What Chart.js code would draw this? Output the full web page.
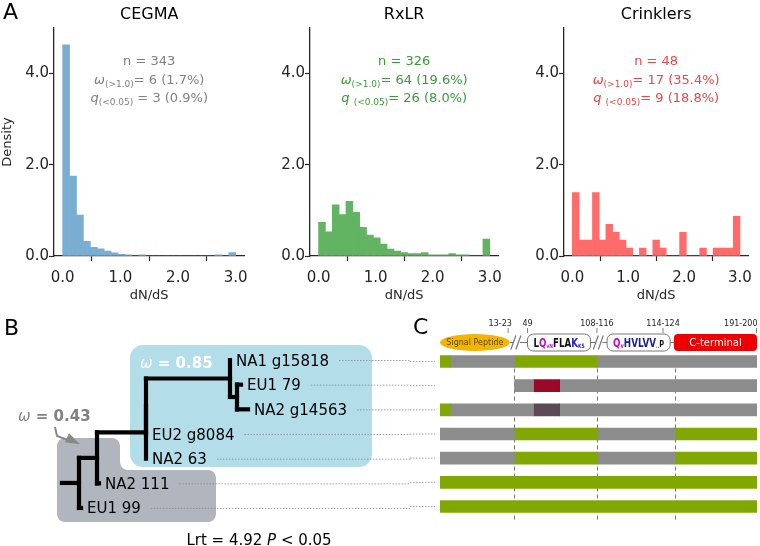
<!DOCTYPE html>
<html>
<head>
<meta charset="utf-8">
<style>
  body { margin: 0; background: #fff; width: 760px; height: 546px; position: relative; overflow: hidden; }
  canvas { position: absolute; }
</style>
<script src="https://cdn.jsdelivr.net/npm/chart.js@4.4.1/dist/chart.umd.min.js"></script>
</head>
<body>
<canvas id="histCegma" width="256" height="310" style="left:0;top:0"></canvas>
<canvas id="histRxlr" width="254" height="310" style="left:256px;top:0"></canvas>
<canvas id="histCrinkler" width="250" height="310" style="left:510px;top:0"></canvas>
<canvas id="tree" width="410" height="236" style="left:0;top:310px"></canvas>
<canvas id="domains" width="350" height="236" style="left:410px;top:310px"></canvas>
<script>
// ---- panel A: dN/dS histograms (density, 25 bins of 0.12) ----
const binCenters = [0.06, 0.18, 0.30, 0.42, 0.54, 0.66, 0.78, 0.90, 1.02, 1.14, 1.26, 1.38, 1.50,
                    1.62, 1.74, 1.86, 1.98, 2.10, 2.22, 2.34, 2.46, 2.58, 2.70, 2.82, 2.94];
const cegmaDensity = [4.63, 1.75, 0.90, 0.32, 0.19, 0.155, 0.11, 0.07, 0.036, 0.024, 0, 0.024, 0,
                      0, 0, 0, 0, 0, 0, 0, 0, 0, 0.024, 0, 0.073];
const rxlrDensity = [0.74, 0.53, 1.12, 0.91, 1.20, 0.96, 0.63, 0.46, 0.40, 0.26, 0.15, 0.11, 0.077,
                     0.051, 0.051, 0.077, 0.026, 0.026, 0.026, 0.051, 0.026, 0.026, 0, 0, 0.37];
const crinklerDensity = [1.389, 0.347, 0.347, 1.389, 0.347, 0.694, 0.521, 0.347, 0.174, 0, 0.174, 0,
                         0.347, 0.174, 0, 0, 0.521, 0, 0, 0.174, 0, 0.174, 0.174, 0.174, 0.868];
const familyNames = ['CEGMA', 'RxLR', 'Crinklers'];
const nGenes = [343, 326, 48];
const nOmegaAbove1 = [6, 64, 17];
const nQBelow005 = [3, 26, 9];
const xTickValues = [0, 1, 2, 3];
const yTickValues = [0, 2, 4];

// ---- panel B: tree (newick, branch lengths) ----
const newick = '(((((NA1 g15818:0,(EU1 79:0.04,NA2 g14563:0.11):0.07):0.84,EU2 g8084:0):0,NA2 63:0):0.49,NA2 111:0.02):0.18,EU1 99:0.02):0.17;';
const omegaFg = '0.85';
const omegaBg = '0.43';
const lrtValue = '4.92';

// ---- panel C: alignment segments per sequence [start, end, state] ----
const rowLabels = ['NA1 g15818', 'EU1 79', 'NA2 g14563', 'EU2 g8084', 'NA2 63', 'NA2 111', 'EU1 99'];
const segNA1_g15818 = [[0, 6.5, 'sel'], [6.5, 47, 'bg'], [47, 99, 'sel'], [99, 200, 'bg']];
const segEU1_79 = [[47, 59, 'bg'], [59, 75.5, 'ins1'], [75.5, 200, 'bg']];
const segNA2_g14563 = [[0, 6.5, 'sel'], [6.5, 59, 'bg'], [59, 75.5, 'ins2'], [75.5, 200, 'bg']];
const segEU2_g8084 = [[0, 47, 'bg'], [47, 99, 'sel'], [99, 148, 'bg'], [148, 200, 'sel']];
const segNA2_63 = [[0, 47, 'bg'], [47, 99, 'sel'], [99, 148, 'bg'], [148, 200, 'sel']];
const segNA2_111 = [[0, 200, 'sel']];
const segEU1_99 = [[0, 200, 'sel']];
const domainBounds = [47, 99, 148];
const domainLabels = ['Signal Peptide', 'motif1', 'motif2', 'C-terminal'];
const domainStart = [0, 55.2, 105.4, 147.6];
const domainEnd = [44, 95, 145.2, 200];
const breakAt = [48.5, 100.5];
const posTickAt = [43, 55.2, 99, 140.7, 200];
const posLabelAt = [38, 55.2, 99, 140.7, 200];
const posTickText = ['13-23', '49', '108-116', '114-124', '191-200'];

const FONT = "'DejaVu Sans', sans-serif";
Chart.defaults.font.family = FONT;
Chart.defaults.color = '#262626';

function drawRich(ctx, parts, x, y, color, align) {
  let total = 0;
  parts.forEach(p => { ctx.font = p.font; p.w = ctx.measureText(p.t).width; total += p.w; });
  let cx = align === 'left' ? x : x - total / 2;
  ctx.fillStyle = color;
  ctx.textAlign = 'left';
  ctx.textBaseline = 'alphabetic';
  parts.forEach(p => { ctx.font = p.font; ctx.fillText(p.t, cx, y + (p.dy || 0)); cx += p.w; });
  return total;
}

const pct = (a, b) => (100 * a / b).toFixed(1);

function makeHistText(i, color) {
  return {
    id: 'histText' + i,
    afterDraw(chart) {
      const { ctx, chartArea: a } = chart;
      const cx = (a.left + a.right) / 2;
      ctx.save();
      ctx.fillStyle = '#000';
      ctx.font = '16px ' + FONT;
      ctx.textAlign = 'center';
      ctx.textBaseline = 'alphabetic';
      ctx.fillText(familyNames[i], cx, 18.5);
      const n = '13px ' + FONT, it = 'italic 13px ' + FONT, sub = '9px ' + FONT;
      const qGap = i === 0 ? '' : ' ';
      drawRich(ctx, [{ t: 'n = ' + nGenes[i], font: n }], cx, 65, color);
      drawRich(ctx, [{ t: 'ω', font: it }, { t: '(>1.0)', font: sub, dy: 3 },
        { t: '= ' + nOmegaAbove1[i] + ' (' + pct(nOmegaAbove1[i], nGenes[i]) + '%)', font: n }], cx, 83.5, color);
      drawRich(ctx, [{ t: 'q' + qGap, font: it }, { t: '(<0.05)', font: sub, dy: 3 },
        { t: (i === 0 ? ' ' : '') + '= ' + nQBelow005[i] + ' (' + pct(nQBelow005[i], nGenes[i]) + '%)', font: n }], cx, 102, color);
      if (i === 0) {
        ctx.fillStyle = '#000';
        ctx.font = '22px ' + FONT;
        ctx.textAlign = 'left';
        ctx.fillText('A', 3, 19);
      }
      ctx.restore();
    }
  };
}

function histChart(id, i, values, barColor, textColor, padRight) {
  return new Chart(document.getElementById(id), {
    type: 'bar',
    data: {
      datasets: [{
        data: binCenters.map((x, k) => ({ x: x, y: values[k] })),
        backgroundColor: barColor,
        borderWidth: 0,
        barPercentage: 1,
        categoryPercentage: 1
      }]
    },
    options: {
      responsive: false,
      animation: false,
      layout: { padding: { top: 28, right: padRight, left: 0, bottom: 0 } },
      plugins: { legend: { display: false }, tooltip: { enabled: false } },
      scales: {
        x: {
          type: 'linear', offset: false, min: -0.15, max: 3.15,
          afterBuildTicks: s => { s.ticks = xTickValues.map(v => ({ value: v })); },
          afterFit: s => { s.height = 54; },
          grid: { drawOnChartArea: false, drawTicks: true, tickLength: 5, tickColor: '#262626', tickWidth: 1.2 },
          border: { display: true, color: '#262626', width: 1.3 },
          ticks: { color: '#262626', font: { size: 15 }, padding: 8, maxRotation: 0, callback: v => v.toFixed(1) },
          title: { display: true, text: 'dN/dS', color: '#262626', font: { size: 13 }, padding: { top: 0, bottom: 7 } }
        },
        y: {
          min: 0, max: 5,
          afterBuildTicks: s => { s.ticks = yTickValues.map(v => ({ value: v })); },
          afterFit: s => { s.width = 54; },
          grid: { drawOnChartArea: false, drawTicks: true, tickLength: 5, tickColor: '#262626', tickWidth: 1.2 },
          border: { display: true, color: '#262626', width: 1.3 },
          ticks: { color: '#262626', font: { size: 15 }, padding: 0, callback: v => v.toFixed(1) },
          title: { display: i === 0, text: 'Density', color: '#262626', font: { size: 13 }, padding: { top: 0, bottom: 0 } }
        }
      }
    },
    plugins: [makeHistText(i, textColor)]
  });
}

histChart('histCegma', 0, cegmaDensity, '#79add2', '#808080', 8);
histChart('histRxlr', 1, rxlrDensity, '#62b462', '#3a9a3a', 6);
histChart('histCrinkler', 2, crinklerDensity, '#ff6a6a', '#e84848', 3);

// ---- tree layout from newick ----
function parseNewick(s) {
  let pos = 0;
  function node() {
    const nd = { children: [], name: '', len: 0 };
    if (s[pos] === '(') {
      pos++;
      nd.children.push(node());
      while (s[pos] === ',') { pos++; nd.children.push(node()); }
      pos++; // ')'
    }
    let name = '';
    while (pos < s.length && !':,);'.includes(s[pos])) name += s[pos++];
    nd.name = name.trim();
    if (s[pos] === ':') {
      pos++;
      let num = '';
      while (pos < s.length && !',);'.includes(s[pos])) num += s[pos++];
      nd.len = parseFloat(num);
    }
    return nd;
  }
  return node();
}
const treeRoot = parseNewick(newick);
const tips = [];
function layout(nd, x0) {
  nd.x = x0 + nd.len;
  if (!nd.children.length) { nd.y = tips.length; tips.push(nd); return; }
  nd.children.forEach(c => layout(c, nd.x));
  nd.y = (nd.children[0].y + nd.children[nd.children.length - 1].y) / 2;
}
layout(treeRoot, 0);
const branchSegs = [[{ x: 0, y: treeRoot.y }, { x: treeRoot.x, y: treeRoot.y }]];
(function collect(nd) {
  if (!nd.children.length) return;
  const ys = nd.children.map(c => c.y);
  branchSegs.push([{ x: nd.x, y: Math.min(...ys) }, { x: nd.x, y: Math.max(...ys) }]);
  nd.children.forEach(c => {
    if (c.len > 0) branchSegs.push([{ x: nd.x, y: c.y }, { x: c.x, y: c.y }]);
    collect(c);
  });
})(treeRoot);

function roundPoly(ctx, pts, r) {
  const n = pts.length;
  ctx.beginPath();
  const start = [(pts[n - 1][0] + pts[0][0]) / 2, (pts[n - 1][1] + pts[0][1]) / 2];
  ctx.moveTo(start[0], start[1]);
  for (let k = 0; k < n; k++) {
    const p = pts[k], q = pts[(k + 1) % n];
    ctx.arcTo(p[0], p[1], q[0], q[1], r);
  }
  ctx.closePath();
}

const treeDecor = {
  id: 'treeDecor',
  beforeDatasetsDraw(chart) {
    const { ctx, scales: { x, y } } = chart;
    ctx.save();
    const X = v => x.getPixelForValue(v), Y = v => y.getPixelForValue(v);
    // background clade (omega 0.43)
    ctx.fillStyle = '#b1b6be';
    roundPoly(ctx, [[X(-0.05), Y(3.16)], [X(0.58), Y(3.16)], [X(0.58), Y(4.46)], [X(1.54), Y(4.46)],
      [X(1.54), Y(6.57)], [X(-0.05), Y(6.57)]], 8);
    ctx.fill();
    // foreground clade (omega 0.85)
    ctx.fillStyle = '#b3dde8';
    ctx.beginPath();
    ctx.roundRect(X(0.68), Y(-0.61), X(3.10) - X(0.68), Y(4.34) - Y(-0.61), 13);
    ctx.fill();
    ctx.restore();
  },
  afterDatasetsDraw(chart) {
    const { ctx, scales: { x, y }, width } = chart;
    const X = v => x.getPixelForValue(v), Y = v => y.getPixelForValue(v);
    ctx.save();
    ctx.font = '15px ' + FONT;
    tips.forEach(t => {
      const tx = X(t.x) + 6, ty = Y(t.y);
      ctx.fillStyle = '#000';
      ctx.textAlign = 'left';
      ctx.textBaseline = 'alphabetic';
      ctx.fillText(t.name, tx, ty + 5.5);
      const w = ctx.measureText(t.name).width;
      ctx.strokeStyle = '#8a8a8a';
      ctx.lineWidth = 0.8;
      ctx.setLineDash([1.5, 1.5]);
      ctx.beginPath();
      ctx.moveTo(tx + w + 10, ty + 0.5);
      ctx.lineTo(width, ty + 0.5);
      ctx.stroke();
      ctx.setLineDash([]);
    });
    drawRich(ctx, [{ t: 'ω', font: 'italic 15px ' + FONT }, { t: ' = ' + omegaFg, font: 'bold 15px ' + FONT }],
      X(0.78), Y(0.12) + 5.5, '#ffffff', 'left');
    drawRich(ctx, [{ t: 'ω', font: 'italic 15px ' + FONT }, { t: ' = ' + omegaBg, font: 'bold 15px ' + FONT }],
      X(-0.44), Y(2.23) + 5.5, '#808080', 'left');
    // arrow to background clade
    ctx.strokeStyle = '#888';
    ctx.fillStyle = '#888';
    ctx.lineWidth = 2;
    ctx.beginPath();
    ctx.moveTo(X(-0.07), Y(2.72));
    ctx.lineTo(X(-0.05), Y(3.08));
    ctx.lineTo(X(0.11), Y(3.32));
    ctx.stroke();
    const ax = X(0.18), ay = Y(3.42);
    ctx.beginPath();
    ctx.moveTo(ax, ay);
    ctx.lineTo(ax - 11, ay - 11);
    ctx.lineTo(ax - 15, ay - 2);
    ctx.closePath();
    ctx.fill();
    drawRich(ctx, [{ t: 'Lrt = ' + lrtValue + ' ', font: '15px ' + FONT }, { t: 'P', font: 'italic 15px ' + FONT },
      { t: ' < 0.05', font: '15px ' + FONT }], X(1.97), Y(7.26) + 5.5, '#000');
    ctx.fillStyle = '#000';
    ctx.font = '22px ' + FONT;
    ctx.textAlign = 'left';
    ctx.fillText('B', 4, 25);
    ctx.restore();
  }
};

new Chart(document.getElementById('tree'), {
  type: 'scatter',
  data: {
    datasets: branchSegs.map(s => ({
      data: s, showLine: true, borderColor: '#000', borderWidth: 4.2,
      pointRadius: 0, borderCapStyle: 'square', clip: false
    }))
  },
  options: {
    responsive: false,
    animation: false,
    layout: { padding: { top: 37.67, bottom: 25.67, left: 0, right: 0 } },
    scales: {
      x: { type: 'linear', min: -0.62, max: 3.48, display: false },
      y: { type: 'linear', min: -0.5, max: 6.5, reverse: true, display: false }
    },
    plugins: { legend: { display: false }, tooltip: { enabled: false } }
  },
  plugins: [treeDecor]
});

// ---- panel C ----
const stateColors = { sel: '#80a800', bg: '#8c8c8c', ins1: '#9a0a28', ins2: '#5b4a56' };
const rowSegs = [segNA1_g15818, segEU1_79, segNA2_g14563, segEU2_g8084, segNA2_63, segNA2_111, segEU1_99];
const maxSegs = Math.max(...rowSegs.map(r => r.length));
const segDatasets = [];
for (let k = 0; k < maxSegs; k++) {
  segDatasets.push({
    data: rowSegs.map(r => r[k] ? [r[k][0], r[k][1]] : null),
    backgroundColor: rowSegs.map(r => r[k] ? stateColors[r[k][2]] : 'rgba(0,0,0,0)'),
    borderWidth: 0,
    barThickness: 12,
    grouped: false
  });
}

function drawMotif(ctx, parts, x0, x1, yc) {
  let total = 0;
  parts.forEach(p => { ctx.font = 'bold ' + p[2] + 'px ' + FONT; p.w = ctx.measureText(p[0]).width; total += p.w; });
  const target = x1 - x0 - 12;
  const sc = Math.min(1, target / total);
  ctx.save();
  ctx.translate((x0 + x1) / 2 - total * sc / 2, yc);
  ctx.scale(sc, 1);
  let cx = 0;
  ctx.textAlign = 'left';
  ctx.textBaseline = 'alphabetic';
  parts.forEach(p => {
    ctx.font = 'bold ' + p[2] + 'px ' + FONT;
    ctx.fillStyle = p[1];
    ctx.fillText(p[0], cx, p[2] > 8 ? 4.5 : 5);
    cx += p.w;
  });
  ctx.restore();
}
const motif1 = [['L', '#111', 12], ['Q', '#c010c0', 12], ['vN', '#c010c0', 6], ['FLA', '#111', 12],
                ['K', '#2323c8', 12], ['KS', '#2323c8', 6]];
const motif2 = [['Q', '#c010c0', 12], ['v', '#c010c0', 7], ['H', '#20208a', 12], ['VLVV', '#20208a', 12],
                ['..', '#555', 6], ['P', '#111', 9]];

const domainDecor = {
  id: 'domainDecor',
  beforeDatasetsDraw(chart) {
    const { ctx, chartArea: a, scales: { x, y } } = chart;
    ctx.save();
    ctx.strokeStyle = '#777';
    ctx.lineWidth = 1;
    ctx.setLineDash([4, 3]);
    domainBounds.forEach(b => {
      const px = Math.round(x.getPixelForValue(b)) + 0.5;
      ctx.beginPath();
      ctx.moveTo(px, y.getPixelForValue(0));
      ctx.lineTo(px, a.bottom + 2);
      ctx.stroke();
    });
    ctx.restore();
  },
  afterDraw(chart) {
    const { ctx, chartArea: a, scales: { x, y } } = chart;
    const X = v => x.getPixelForValue(v);
    ctx.save();
    // leaders
    ctx.strokeStyle = '#8a8a8a';
    ctx.lineWidth = 0.8;
    ctx.setLineDash([1.5, 1.5]);
    rowLabels.forEach((r, k) => {
      const py = y.getPixelForValue(k);
      ctx.beginPath();
      ctx.moveTo(0, py);
      ctx.lineTo(a.left - 5, py);
      ctx.stroke();
    });
    ctx.setLineDash([]);
    const yc = 32.5, hh = 8.5;
    // connector line
    ctx.strokeStyle = '#777';
    ctx.lineWidth = 1.2;
    ctx.beginPath();
    ctx.moveTo(X(domainEnd[0]), yc);
    ctx.lineTo(X(domainStart[3]), yc);
    ctx.stroke();
    // breaks
    breakAt.forEach(b => {
      const bx = X(b);
      ctx.fillStyle = '#fff';
      ctx.fillRect(bx - 3, yc - 2, 6, 4);
      ctx.beginPath();
      ctx.moveTo(bx - 6, yc + 7); ctx.lineTo(bx - 1, yc - 7);
      ctx.moveTo(bx - 1, yc + 7); ctx.lineTo(bx + 4, yc - 7);
      ctx.stroke();
    });
    // signal peptide
    ctx.fillStyle = '#f4b400';
    ctx.beginPath();
    ctx.ellipse((X(domainStart[0]) + X(domainEnd[0])) / 2, yc, (X(domainEnd[0]) - X(domainStart[0])) / 2, hh, 0, 0, Math.PI * 2);
    ctx.fill();
    ctx.fillStyle = '#5e4a00';
    ctx.font = '8px ' + FONT;
    ctx.textAlign = 'center';
    ctx.textBaseline = 'middle';
    ctx.fillText(domainLabels[0], (X(domainStart[0]) + X(domainEnd[0])) / 2, yc);
    // motif boxes
    [1, 2].forEach(k => {
      ctx.fillStyle = '#fff';
      ctx.strokeStyle = '#777';
      ctx.lineWidth = 1;
      ctx.beginPath();
      ctx.roundRect(X(domainStart[k]), yc - hh, X(domainEnd[k]) - X(domainStart[k]), 2 * hh, 6);
      ctx.fill();
      ctx.stroke();
      drawMotif(ctx, k === 1 ? motif1 : motif2, X(domainStart[k]), X(domainEnd[k]), yc);
    });
    // C-terminal
    ctx.fillStyle = '#ee0000';
    ctx.beginPath();
    ctx.roundRect(X(domainStart[3]), yc - hh, X(domainEnd[3]) - X(domainStart[3]), 2 * hh, 4);
    ctx.fill();
    ctx.fillStyle = '#fff';
    ctx.font = '10px ' + FONT;
    ctx.textAlign = 'center';
    ctx.textBaseline = 'middle';
    ctx.fillText(domainLabels[3], (X(domainStart[3]) + X(domainEnd[3])) / 2, yc + 0.5);
    // position ticks
    ctx.strokeStyle = '#666';
    ctx.lineWidth = 0.8;
    ctx.fillStyle = '#222';
    ctx.font = '8px ' + FONT;
    ctx.textBaseline = 'alphabetic';
    const last = posTickAt.length - 1;
    posTickAt.forEach((p, k) => {
      const px = Math.min(X(p), a.right - 0.5);
      ctx.beginPath();
      ctx.moveTo(px, 18);
      ctx.lineTo(px, 23);
      ctx.stroke();
      ctx.textAlign = k === last ? 'right' : 'center';
      ctx.fillText(posTickText[k], k === last ? px + 1 : X(posLabelAt[k]), 16);
    });
    ctx.fillStyle = '#000';
    ctx.font = '22px ' + FONT;
    ctx.textAlign = 'left';
    ctx.fillText('C', 3, 24);
    ctx.restore();
  }
};

new Chart(document.getElementById('domains'), {
  type: 'bar',
  data: { labels: rowLabels, datasets: segDatasets },
  options: {
    indexAxis: 'y',
    responsive: false,
    animation: false,
    layout: { padding: { left: 30, right: 3, top: 39.4, bottom: 27.4 } },
    scales: {
      x: { type: 'linear', min: 0, max: 200, display: false },
      y: { display: false }
    },
    plugins: { legend: { display: false }, tooltip: { enabled: false } }
  },
  plugins: [domainDecor]
});
</script>
</body>
</html>
